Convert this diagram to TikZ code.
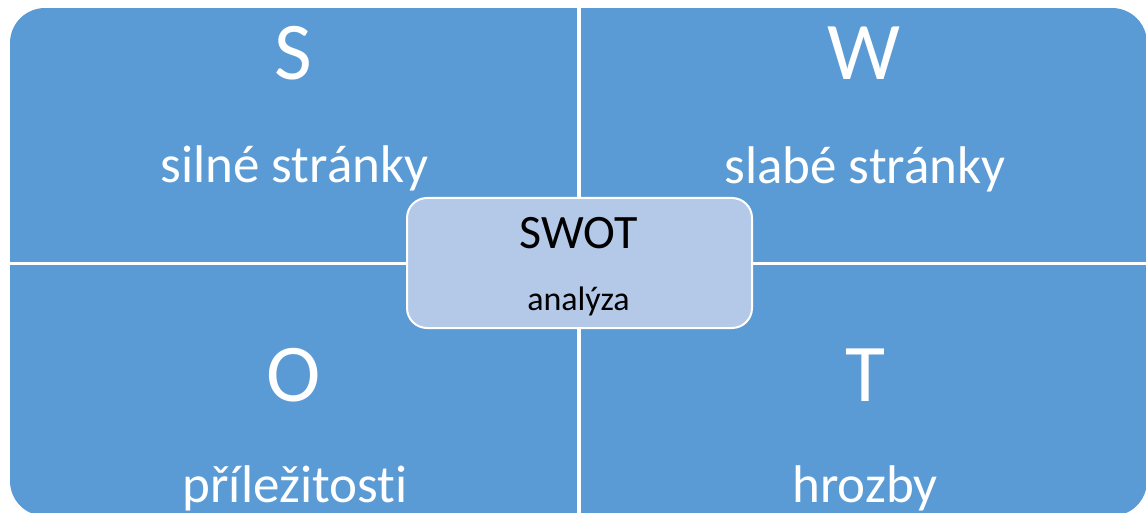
\documentclass[tikz,border=0pt]{standalone}
\usepackage{fontspec}
\setmainfont{Carlito}[Ligatures=NoCommon]
\definecolor{quad}{HTML}{5B9BD5}
\definecolor{hub}{HTML}{B4C8E8}
\begin{document}
\begin{tikzpicture}[x=1pt,y=-1pt,
  letter/.style={anchor=base,inner sep=0,text=white,font=\fontsize{82}{82}\selectfont},
  label/.style={anchor=base,inner sep=0,text=white,font=\fontsize{53}{53}\selectfont},
  quadfill/.style={fill=quad}]
\useasboundingbox (0,0) rectangle (1146,513);
\begin{scope}
  \clip[rounded corners=35pt] (10,8) rectangle (1147,516);
  \fill[quadfill] (10,8) rectangle (577.3,262);
  \fill[quadfill] (580.7,8) rectangle (1147,262);
  \fill[quadfill] (10,265) rectangle (577.3,516);
  \fill[quadfill] (580.7,265) rectangle (1147,516);
\end{scope}
\node[letter] (S) at (293.5,79.5) {S};
\node[label] (s2) at (294.5,183) {silné stránky};
\node[letter] (W) at (864,80) {W};
\node[label] (w2) at (865,184) {slabé stránky};
\node[letter] (O) at (293.5,401) {O};
\node[label] (o2) at (295,502) {příležitosti};
\node[letter] (T) at (865,401) {T};
\node[label] (t2) at (865,502) {hrozby};
\draw[white,line width=2pt,fill=hub,rounded corners=20pt] (407,198) rectangle (752,328);
\node[anchor=base,inner sep=0,font=\fontsize{48}{48}\selectfont] (swot) at (578.5,248) {SWOT};
\node[anchor=base,inner sep=0,font=\fontsize{34}{34}\selectfont] (an) at (578.5,310) {analýza};
\end{tikzpicture}
\end{document}
